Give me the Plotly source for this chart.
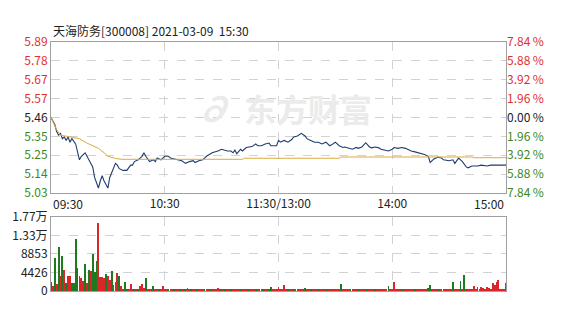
import plotly.graph_objects as go

# ---------------- data ----------------
price_min = [0, 2, 3, 4, 5, 6, 7, 8, 9, 10, 11, 13, 15, 16, 18, 20, 22, 23, 25, 26, 27, 28, 30, 31, 33, 34, 35, 36, 38, 40,
             42, 43, 44, 46, 48, 49, 50, 52, 54, 55, 56, 58, 60, 62, 63, 67, 69, 71, 73, 75, 76, 78, 80, 82, 85, 88, 90, 93, 95, 96,
             97, 98, 100, 101, 103, 106, 108, 109, 111, 113, 115, 116, 119, 120, 121, 123, 125, 127, 128, 130, 132, 134, 135, 137, 139, 141, 143, 145, 147, 148,
             150, 152, 154, 155, 157, 159, 161, 162, 164, 166, 168, 169, 171, 173, 174, 176, 178, 180, 181, 183, 185, 187, 188, 190, 192, 194, 197, 199, 200, 202,
             204, 206, 207, 210, 212, 213, 215, 217, 219, 220, 222, 225, 227, 230, 232, 235, 240]
price_val = [5.46, 5.42, 5.38, 5.36, 5.37, 5.34, 5.35, 5.33, 5.35, 5.32, 5.34, 5.31, 5.22, 5.24, 5.26, 5.22, 5.18, 5.12, 5.06, 5.10, 5.13, 5.10, 5.06, 5.12, 5.17, 5.20, 5.19, 5.17, 5.16, 5.16,
             5.19, 5.19, 5.21, 5.22, 5.24, 5.26, 5.24, 5.21, 5.22, 5.21, 5.23, 5.22, 5.24, 5.24, 5.23, 5.22, 5.215, 5.20, 5.21, 5.215, 5.205, 5.215, 5.22, 5.24, 5.26, 5.27, 5.28, 5.27, 5.27, 5.26,
             5.275, 5.255, 5.28, 5.27, 5.29, 5.295, 5.31, 5.30, 5.30, 5.31, 5.315, 5.30, 5.30, 5.33, 5.32, 5.33, 5.32, 5.335, 5.35, 5.355, 5.37, 5.355, 5.34, 5.33, 5.32, 5.32, 5.31, 5.32, 5.30, 5.305,
             5.32, 5.30, 5.29, 5.293, 5.285, 5.28, 5.29, 5.285, 5.293, 5.317, 5.293, 5.288, 5.293, 5.288, 5.28, 5.275, 5.27, 5.28, 5.29, 5.285, 5.29, 5.285, 5.28, 5.27, 5.265, 5.26, 5.25, 5.24, 5.205, 5.225,
             5.235, 5.23, 5.22, 5.215, 5.22, 5.20, 5.23, 5.21, 5.18, 5.175, 5.185, 5.185, 5.19, 5.185, 5.19, 5.19, 5.19]

avg_min = [0, 3, 5, 8, 11, 15, 18, 22, 25, 28, 30, 34, 37, 101, 102, 152, 153, 222, 223, 240]
avg_val = [5.46, 5.39, 5.36, 5.355, 5.35, 5.34, 5.32, 5.30, 5.285, 5.26, 5.24, 5.228, 5.223, 5.223, 5.229, 5.229, 5.236, 5.236, 5.232, 5.232]

volume = [2230, 1200, 7800, 1670, 10600, 3580, 8370, 5020, 1800, 3600,
          3600, 2000, 2000, 12400, 5400, 3600, 3000, 2500, 6400, 2000,
          5000, 4800, 8800, 4600, 7200, 16300, 3400, 3400, 3000, 4100,
          3600, 2600, 4800, 1400, 2200, 4200, 3700, 1200, 400, 2200,
          400, 300, 1700, 400, 300, 300, 400, 1200, 1670, 800,
          3000, 300, 300, 400, 1200, 300, 300, 300, 400, 1200,
          400, 300, 300, 300, 400, 300, 300, 300, 300, 300,
          300, 300, 700, 300, 300, 300, 300, 300, 300, 400,
          300, 300, 300, 300, 300, 300, 300, 400, 700, 300,
          300, 300, 300, 300, 400, 300, 300, 300, 300, 300,
          300, 300, 500, 300, 300, 300, 300, 500, 300, 300,
          300, 300, 300, 300, 300, 300, 960, 300, 300, 300,
          960, 300, 300, 1400, 300, 500, 300, 300, 300, 300,
          300, 500, 300, 300, 700, 300, 300, 300, 300, 300,
          300, 300, 300, 300, 300, 300, 300, 300, 300, 300,
          300, 300, 300, 1670, 300, 300, 300, 500, 300, 300,
          300, 300, 300, 300, 300, 300, 300, 300, 300, 300,
          300, 300, 300, 300, 300, 300, 300, 300, 1200, 300,
          300, 2230, 300, 500, 300, 300, 300, 300, 300, 300,
          300, 300, 300, 300, 300, 300, 300, 300, 300, 700,
          1430, 300, 300, 300, 300, 300, 300, 300, 300, 300,
          300, 300, 2230, 500, 300, 300, 2470, 300, 3820, 300,
          500, 300, 300, 1200, 300, 960, 300, 960, 700, 300,
          960, 700, 300, 1830, 1430, 2150, 2630, 300, 300, 300, 1900]
vol_dir = ("grgrgrgrgr" "rggggrrrgr" "grgggrrrrg" "rrgrrrgrrg" "grrrgrgrrr"
           "grrggrrgrr" "rrgrrgrrgr" "grrrgrrgrr" "rgrrgrrrrg" "rrgrrgrrrr"
           "grrrgrrrgr" "rrgrrggrrr" "rrrrrgrrgr" "rrrrgrrgrr" "rgrrrgrrrr"
           "rrrgrrrrgr" "rrgrrrgrrr" "rgrrrrrrgr" "rrrrrgrrrr" "rrgrrrrrrg"
           "grrrgrrrrr" "rrgrrrgrgr" "rrrrrrrrrr" "rrrrrrrrrrr")

pre_close = 5.46
price_ticks = [5.888, 5.781, 5.674, 5.567, 5.46, 5.353, 5.246, 5.139, 5.032]
price_labels = ["5.89", "5.78", "5.67", "5.57", "5.46", "5.35", "5.25", "5.14", "5.03"]
pct_labels = ["7.84\u2009%", "5.88\u2009%", "3.92\u2009%", "1.96\u2009%", "0.00\u2009%",
              "1.96\u2009%", "3.92\u2009%", "5.88\u2009%", "7.84\u2009%"]
vol_ticks = [0, 4426, 8853, 13280, 17706]
vol_labels = ["0", "4426", "8853", "1.33万", "1.77万"]
time_ticks = [60, 120, 180]
time_labels = ["10:30", "11:30/13:00", "14:00"]
title = "天海防务[300008] 2021-03-09\u00a0\u00a015:30"

# ---------------- style ----------------
RED = "#e0312f"
GREEN = "#3b8a1e"
BAR_RED = "#d9262a"
BAR_GREEN = "#1f7a1f"
GRID = "#d2d2d2"
BORDER = "#a0a0a0"
FONT = "Noto Sans CJK SC, Noto Sans, sans-serif"


def colored(lbl, tick):
    if abs(tick - pre_close) < 1e-6:
        c = "#222222"
    elif tick > pre_close:
        c = RED
    else:
        c = GREEN
    return f"<span style='color:{c}'>{lbl}</span>"


left_text = [colored(l, t) for l, t in zip(price_labels, price_ticks)]
right_text = [colored(l, t) for l, t in zip(pct_labels, price_ticks)]
bar_colors = [BAR_RED if d == "r" else BAR_GREEN for d in vol_dir]

fig = go.Figure()
fig.add_trace(go.Scatter(x=price_min, y=price_val, mode="lines",
                         line=dict(color="#1e3c6e", width=1.1), xaxis="x", yaxis="y",
                         hoverinfo="skip"))
fig.add_trace(go.Scatter(x=avg_min, y=avg_val, mode="lines",
                         line=dict(color="#dcaa3c", width=1), xaxis="x", yaxis="y3",
                         hoverinfo="skip"))
fig.add_trace(go.Bar(x=list(range(len(volume))), y=volume, marker=dict(color=bar_colors, line=dict(width=0)),
                     width=0.45, xaxis="x2", yaxis="y2", hoverinfo="skip"))

axis_common = dict(showgrid=True, gridcolor=GRID, griddash="dash", gridwidth=1,
                   showline=True, linecolor=BORDER, linewidth=1, mirror=True,
                   zeroline=False, ticks="", fixedrange=True)

fig.update_layout(
    width=568, height=332,
    margin=dict(l=45, r=62, t=42, b=41),
    paper_bgcolor="white", plot_bgcolor="white",
    showlegend=False, bargap=0,
    font=dict(family=FONT, size=12, color="#222222"),
    xaxis=dict(domain=[0, 1], range=[0, 240], tickvals=time_ticks, ticktext=time_labels,
               anchor="y", tickfont=dict(size=12, color="#222222"), **axis_common),
    yaxis=dict(domain=[0.3936, 1.0], range=[5.032, 5.888], tickvals=price_ticks, ticktext=left_text,
               anchor="x", tickfont=dict(size=12), **axis_common),
    yaxis3=dict(range=[5.032, 5.888], tickvals=price_ticks, ticktext=right_text, overlaying="y",
                side="right", anchor="x", showgrid=False, zeroline=False, ticks="",
                tickfont=dict(size=12), fixedrange=True),
    xaxis2=dict(domain=[0, 1], range=[0, 240], tickvals=time_ticks, showticklabels=False,
                anchor="y2", **axis_common),
    yaxis2=dict(domain=[0, 0.2972], range=[0, 17706], tickvals=vol_ticks, ticktext=vol_labels,
                anchor="x2", tickfont=dict(size=12, color="#222222"), **axis_common),
    annotations=[
        dict(text=title, x=0, xref="x", y=1.048, yref="paper", xanchor="left", yanchor="middle",
             showarrow=False, font=dict(size=12, color="#222222")),
        dict(text="09:30", x=0, xref="x", y=0.352, yref="paper", xanchor="left", yanchor="middle",
             showarrow=False, font=dict(size=12, color="#222222")),
        dict(text="15:00", x=240, xref="x", y=0.352, yref="paper", xanchor="right", yanchor="middle",
             showarrow=False, font=dict(size=12, color="#222222")),
        dict(text="<b>东方财富</b>", x=0.565, xref="paper", y=0.735, yref="paper",
             xanchor="center", yanchor="middle", showarrow=False,
             font=dict(size=32, color="#ebebeb")),
        dict(text="<b><i>∂</i></b>", x=0.355, xref="paper", y=0.735, yref="paper",
             xanchor="center", yanchor="middle", showarrow=False,
             font=dict(size=34, color="#ebebeb")),
    ],
)

fig.write_html("out.html")
